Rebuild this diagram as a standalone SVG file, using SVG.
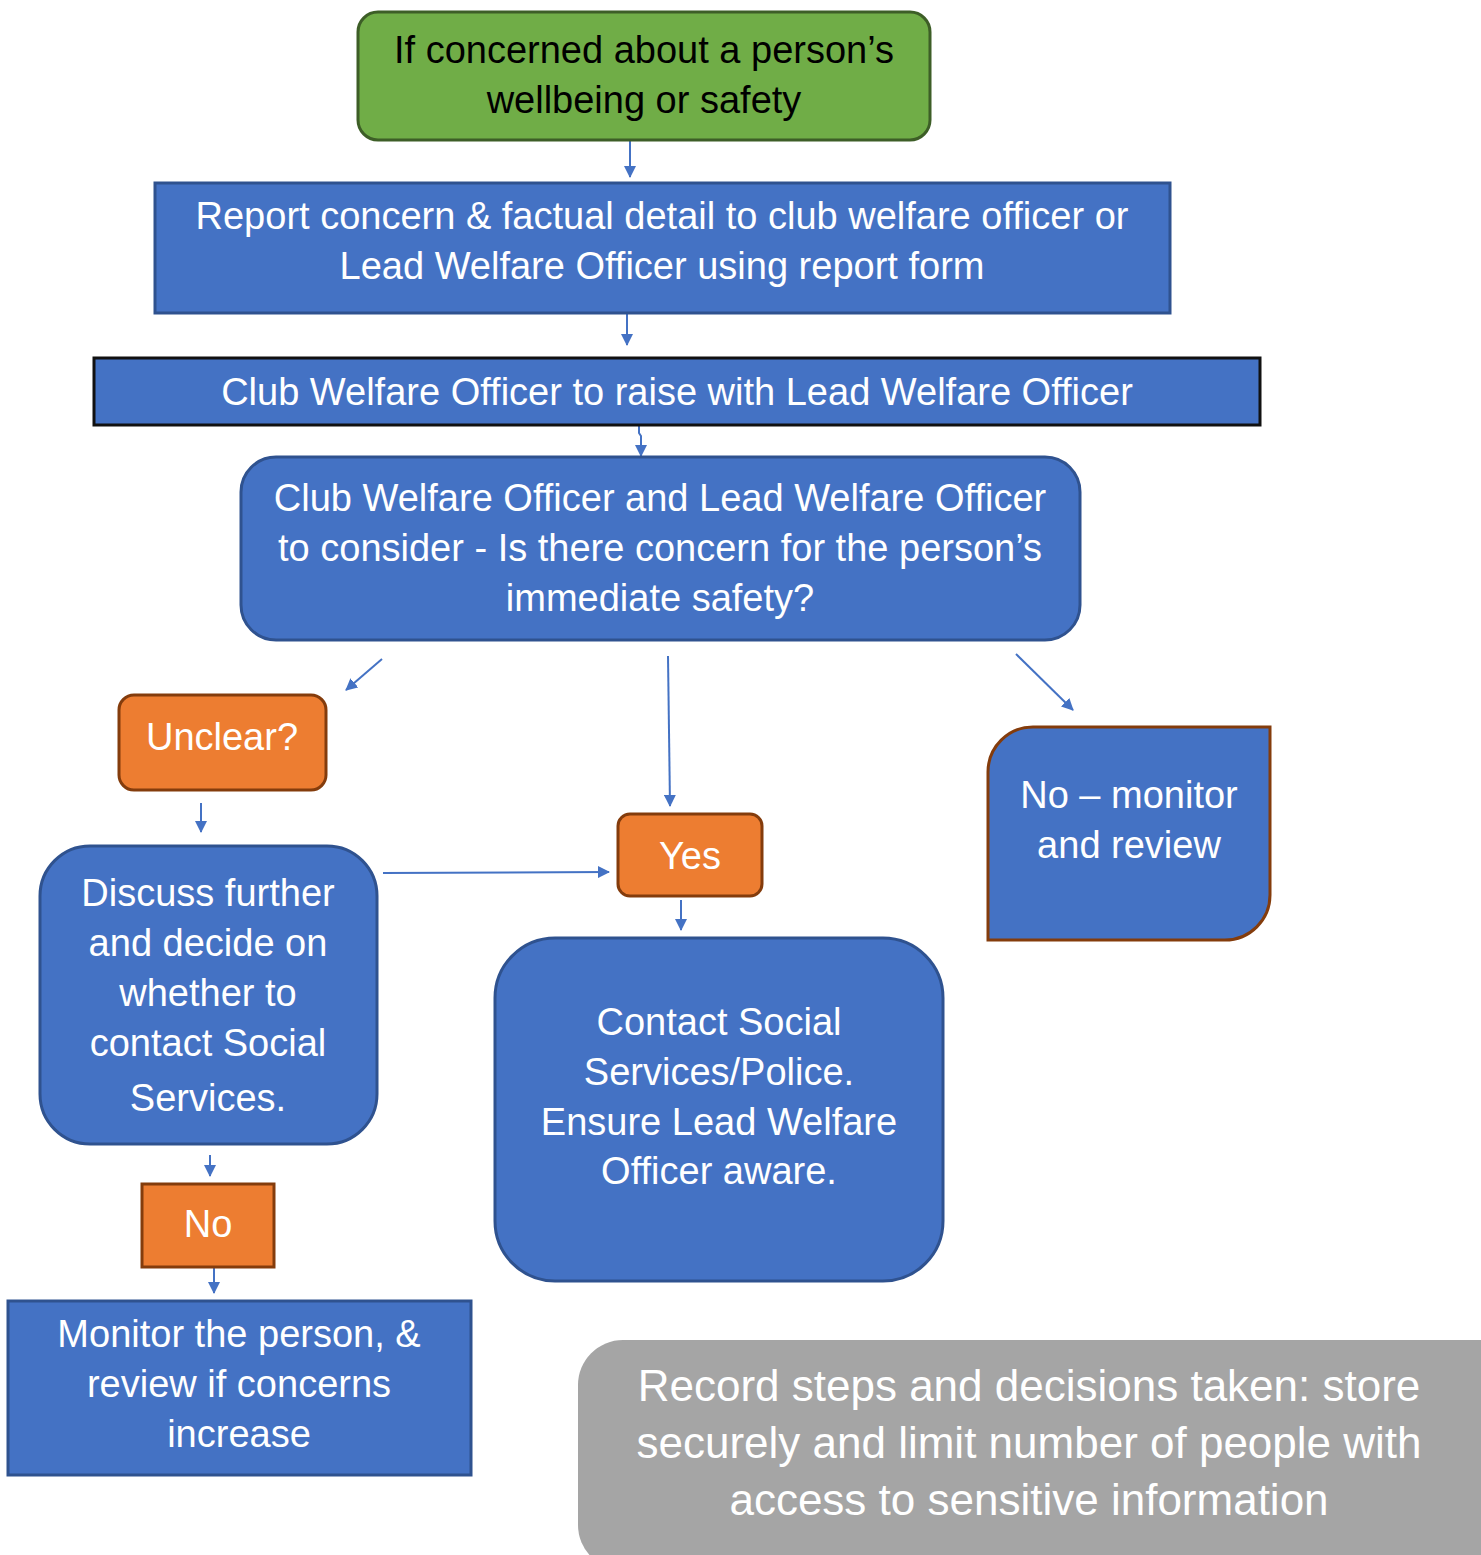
<svg xmlns="http://www.w3.org/2000/svg" width="1481" height="1555" viewBox="0 0 1481 1555">
<defs>
<marker id="ah" markerWidth="12" markerHeight="12" refX="11" refY="6" orient="auto" markerUnits="userSpaceOnUse" viewBox="0 0 12 12">
<path d="M0,0 L12,6 L0,12 Z" fill="#4472C4"/>
</marker>
<style>
.t{font-family:"Liberation Sans",Arial,sans-serif;font-size:38px;fill:#fff;text-anchor:middle}
.g{font-size:44px}
.blk{fill:#000}
.blue{fill:#4472C4;stroke:#2F528F;stroke-width:3}
.org{fill:#ED7D31;stroke:#843C0C;stroke-width:3}
.c{stroke:#4472C4;stroke-width:2;fill:none;marker-end:url(#ah)}
</style>
</defs>
<rect width="1481" height="1555" fill="#fff"/>
<g id="connectors">
<path class="c" d="M630,135 L630,177"/>
<path class="c" d="M627,313 L627,345"/>
<path class="c" d="M639,425 L639,433 L641,436 L641,456"/>
<path class="c" d="M382,659 L346,690"/>
<path class="c" d="M201,803 L201,832"/>
<path class="c" d="M668,656 L670,806"/>
<path class="c" d="M383,873 L609,872"/>
<path class="c" d="M681,900 L681,930"/>
<path class="c" d="M1016,654 L1073,710"/>
<path class="c" d="M210,1155 L210,1176"/>
<path class="c" d="M214,1268 L214,1293"/>
</g>
<g id="n1">
<rect x="358" y="12" width="572" height="128" rx="20" fill="#70AD47" stroke="#3D5E27" stroke-width="3"/>
<text class="t blk" x="644" y="63">If concerned about a person’s</text>
<text class="t blk" x="644" y="113">wellbeing or safety</text>
</g>
<g id="n2">
<rect class="blue" x="155" y="183" width="1015" height="130"/>
<text class="t" x="662" y="229">Report concern &amp; factual detail to club welfare officer or</text>
<text class="t" x="662" y="279">Lead Welfare Officer using report form</text>
</g>
<g id="n3">
<rect x="94" y="358" width="1166" height="67" fill="#4472C4" stroke="#111" stroke-width="3"/>
<text class="t" x="677" y="405">Club Welfare Officer to raise with Lead Welfare Officer</text>
</g>
<g id="n4">
<rect class="blue" x="241" y="457" width="839" height="183" rx="35"/>
<text class="t" x="660" y="511">Club Welfare Officer and Lead Welfare Officer</text>
<text class="t" x="660" y="561">to consider - Is there concern for the person’s</text>
<text class="t" x="660" y="611">immediate safety?</text>
</g>
<g id="n5">
<rect class="org" x="119" y="695" width="207" height="95" rx="15"/>
<text class="t" x="222" y="750">Unclear?</text>
</g>
<g id="n6">
<rect class="blue" x="40" y="846" width="337" height="298" rx="50"/>
<text class="t" x="208" y="906">Discuss further</text>
<text class="t" x="208" y="956">and decide on</text>
<text class="t" x="208" y="1006">whether to</text>
<text class="t" x="208" y="1056">contact Social</text>
<text class="t" x="208" y="1111">Services.</text>
</g>
<g id="n7">
<rect class="org" x="618" y="814" width="144" height="82" rx="12"/>
<text class="t" x="690" y="869">Yes</text>
</g>
<g id="n8">
<rect class="blue" x="495" y="938" width="448" height="343" rx="60"/>
<text class="t" x="719" y="1035">Contact Social</text>
<text class="t" x="719" y="1085">Services/Police.</text>
<text class="t" x="719" y="1135">Ensure Lead Welfare</text>
<text class="t" x="719" y="1184">Officer aware.</text>
</g>
<g id="n9">
<path d="M1033,727 L1270,727 L1270,895 A45,45 0 0 1 1225,940 L988,940 L988,772 A45,45 0 0 1 1033,727 Z" fill="#4472C4" stroke="#843C0C" stroke-width="3"/>
<text class="t" x="1129" y="808">No – monitor</text>
<text class="t" x="1129" y="858">and review</text>
</g>
<g id="n10">
<rect class="org" x="142" y="1184" width="132" height="83"/>
<text class="t" x="208" y="1237">No</text>
</g>
<g id="n11">
<rect class="blue" x="8" y="1301" width="463" height="174"/>
<text class="t" x="239" y="1347">Monitor the person, &amp;</text>
<text class="t" x="239" y="1397">review if concerns</text>
<text class="t" x="239" y="1447">increase</text>
</g>
<g id="n12">
<rect x="578" y="1340" width="945" height="230" rx="45" fill="#A5A5A5"/>
<text class="t g" x="1029" y="1401">Record steps and decisions taken: store</text>
<text class="t g" x="1029" y="1458">securely and limit number of people with</text>
<text class="t g" x="1029" y="1515">access to sensitive information</text>
</g>
</svg>
